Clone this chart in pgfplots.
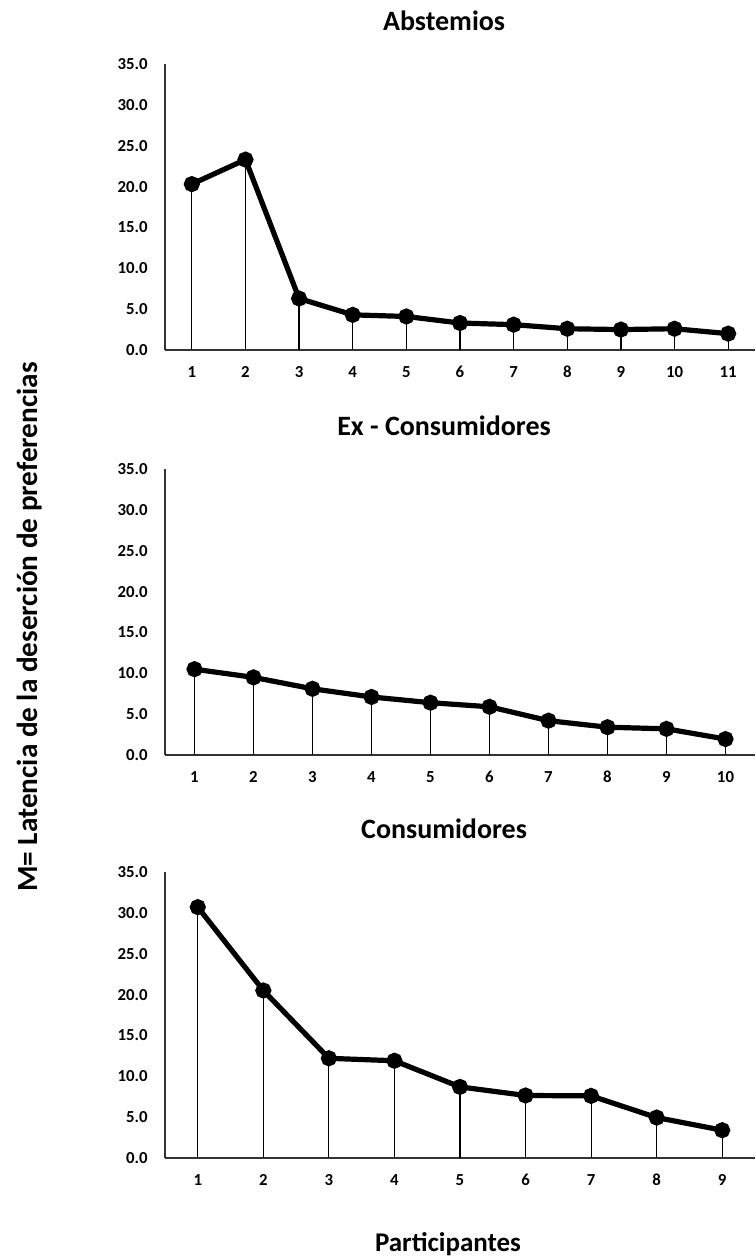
\documentclass[border=0pt]{standalone}
\usepackage{pgfplots}
\pgfplotsset{compat=1.18}
\usepackage{fontspec}
\setmainfont{Carlito}
\pgfplotsset{
  every axis title shift=0pt,
  panel/.style={
    scale only axis,
    width=295pt, height=143pt,
    anchor=south west,
    axis lines*=left,
    axis line style={black!80, line width=0.6pt, -},
    ymin=0, ymax=35,
    ytick={0,5,...,35},
    major tick length=0pt,
    xtick=data,
    /pgf/number format/assume math mode=true,
    yticklabel style={font=\bfseries\fontsize{8.4}{10}\selectfont, inner sep=0pt, xshift=-8.5pt,
      /pgf/number format/fixed, /pgf/number format/fixed zerofill, /pgf/number format/precision=1},
    xticklabel style={font=\bfseries\fontsize{8.4}{10}\selectfont, inner sep=0pt, anchor=base, yshift=-13.7pt},
    title style={at={(0.473,1)}, anchor=center, yshift=21.5pt, font=\bfseries\fontsize{14}{16}\selectfont},
    clip=false,
  },
  stem/.style={ycomb, black, line width=0.6pt, mark=none},
  main/.style={black, line width=2.6pt, mark=*, mark size=2.7pt, mark options={solid, fill=black}},
}
\begin{document}
\begin{tikzpicture}
\useasboundingbox (0,0) rectangle (377.5pt,629pt);
% Panel 1
\begin{axis}[panel, at={(82.5pt,454pt)}, xmin=0.5, xmax=11.5, title={Abstemios}]
\addplot[stem] coordinates {(1,20.3) (2,23.3) (3,6.3) (4,4.3) (5,4.1) (6,3.3) (7,3.1) (8,2.6) (9,2.5) (10,2.6) (11,2.0)};
\addplot[main] coordinates {(1,20.3) (2,23.3) (3,6.3) (4,4.3) (5,4.1) (6,3.3) (7,3.1) (8,2.6) (9,2.5) (10,2.6) (11,2.0)};
\end{axis}
% Panel 2
\begin{axis}[panel, at={(82.5pt,251.5pt)}, xmin=0.5, xmax=10.5, title={Ex - Consumidores}]
\addplot[stem] coordinates {(1,10.5) (2,9.5) (3,8.1) (4,7.1) (5,6.4) (6,5.9) (7,4.2) (8,3.4) (9,3.2) (10,1.95)};
\addplot[main] coordinates {(1,10.5) (2,9.5) (3,8.1) (4,7.1) (5,6.4) (6,5.9) (7,4.2) (8,3.4) (9,3.2) (10,1.95)};
\end{axis}
% Panel 3
\begin{axis}[panel, at={(82.5pt,50pt)}, xmin=0.5, xmax=9.5, title={Consumidores}]
\addplot[stem] coordinates {(1,30.7) (2,20.5) (3,12.2) (4,11.9) (5,8.7) (6,7.65) (7,7.6) (8,4.95) (9,3.4)};
\addplot[main] coordinates {(1,30.7) (2,20.5) (3,12.2) (4,11.9) (5,8.7) (6,7.65) (7,7.6) (8,4.95) (9,3.4)};
\end{axis}
\node[rotate=90, font=\bfseries\fontsize{14.6}{16}\selectfont] at (15pt,315.5pt) {M= Latencia de la deserción de preferencias};
\node[anchor=base, font=\bfseries\fontsize{13.5}{16}\selectfont] at (224pt,3pt) {Participantes};
\end{tikzpicture}
\end{document}
